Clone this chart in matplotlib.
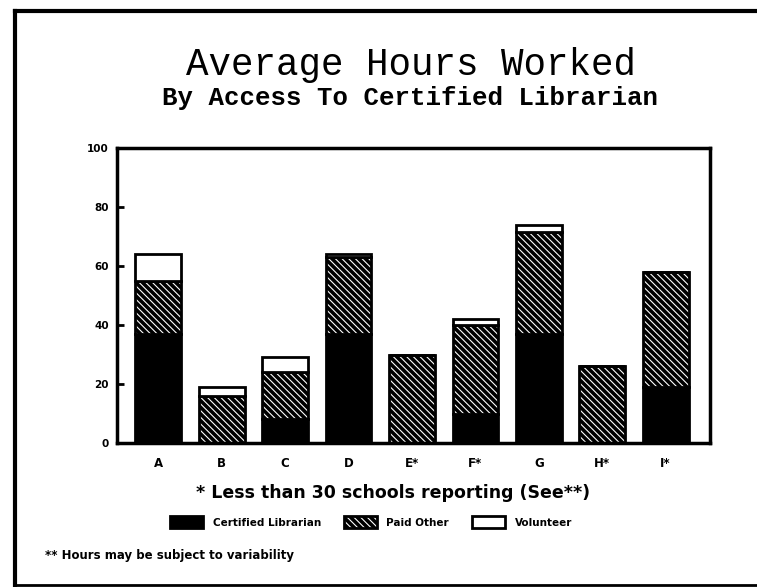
import matplotlib
matplotlib.use("Agg")
import matplotlib.pyplot as plt
import numpy as np
from matplotlib.patches import Patch
from matplotlib.lines import Line2D

categories = ["A", "B", "C", "D", "E*", "F*", "G", "H*", "I*"]
certified = [37, 0, 8, 37, 0, 10, 37, 0, 19]
paid_other = [18, 16, 16, 26, 30, 30, 34.5, 26, 39]
volunteer = [9, 3, 5, 1, 0, 2, 2.5, 0, 0]
yticks = [0, 20, 40, 60, 80, 100]

plt.rcParams['hatch.linewidth'] = 2.6

fig = plt.figure(figsize=(7.57, 5.87), dpi=100)
ax = fig.add_axes([0.1546, 0.2453, 0.7834, 0.5025])

x = np.arange(len(categories))
w = 0.72
c = np.array(certified)
p = np.array(paid_other)
v = np.array(volunteer)
HATCH = '\\\\\\\\\\'
ax.bar(x, c, w, color='black', edgecolor='black', linewidth=2)
ax.bar(x, p, w, bottom=c, color='white', edgecolor='black', hatch=HATCH, linewidth=2)
ax.bar(x, v, w, bottom=c + p, color='white', edgecolor='black', linewidth=2)

ax.set_xlim(-0.65, 8.7)
ax.set_ylim(0, 100)
ax.set_yticks(yticks)
ax.set_yticklabels([str(t) for t in yticks], fontsize=7.5, fontweight='bold')
ax.set_xticks(x)
ax.set_xticklabels(categories, fontsize=8.5, fontweight='bold')
ax.tick_params(axis='x', length=0, pad=10)
ax.tick_params(axis='y', direction='in', length=5, width=2, pad=6)
for s in ax.spines.values():
    s.set_linewidth(2.5)

fig.text(0.543, 0.889, "Average Hours Worked", ha='center', va='center',
         fontsize=27, family='Liberation Mono')
fig.text(0.541, 0.833, "By Access To Certified Librarian", ha='center', va='center',
         fontsize=18.5, family='Liberation Mono', fontweight='bold')
fig.text(0.519, 0.160, "* Less than 30 schools reporting (See**)", ha='center', va='center',
         fontsize=12.5, fontweight='bold')

handles = [Patch(facecolor='black', edgecolor='black', linewidth=2),
           Patch(facecolor='white', edgecolor='black', hatch=HATCH, linewidth=2),
           Patch(facecolor='white', edgecolor='black', linewidth=2)]
labels = ["Certified Librarian", "Paid Other", "Volunteer"]
leg = fig.legend(handles, labels, loc='center', bbox_to_anchor=(0.49, 0.110), ncol=3,
                 frameon=False, prop={'size': 7.5, 'weight': 'bold'},
                 handlelength=3.2, handleheight=1.4, columnspacing=2.2, handletextpad=0.9)

fig.text(0.06, 0.053, "** Hours may be subject to variability", ha='left', va='center',
         fontsize=8.5, fontweight='bold')

# page frame
fig.add_artist(Line2D([15/757, 15/757], [1 - 11/587, 1 - 585/587], transform=fig.transFigure,
                      color='black', linewidth=3))
fig.add_artist(Line2D([15/757, 1.0], [1 - 11/587, 1 - 11/587], transform=fig.transFigure,
                      color='black', linewidth=3))
fig.add_artist(Line2D([15/757, 1.0], [1 - 585/587, 1 - 585/587], transform=fig.transFigure,
                      color='black', linewidth=2))

fig.savefig("out.png", dpi=100)
